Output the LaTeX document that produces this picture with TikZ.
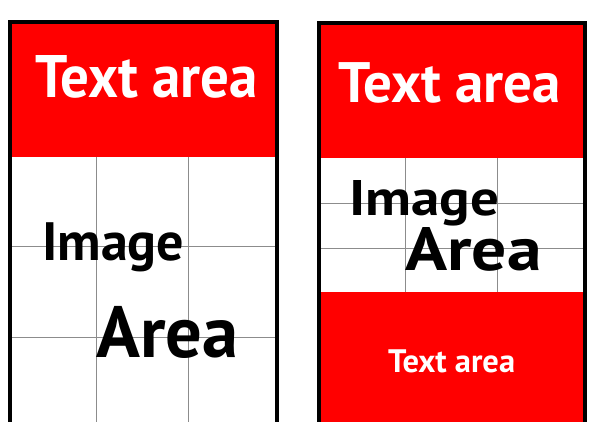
\documentclass[tikz,border=0pt]{standalone}
\usepackage{fontspec}
\newfontfamily\labelfont{PT Sans}
\newfontfamily\narrowfont[FakeStretch=0.95]{PT Sans}
\newfontfamily\widefont[FakeStretch=1.14]{PT Sans}
\newcommand{\fsz}[1]{\fontsize{#1}{#1}\selectfont}

\begin{document}
\begin{tikzpicture}[x=1pt,y=-1pt,
  border/.style={line width=4pt,black},
  gridline/.style={line width=1pt,black!45},
  whitetxt/.style={inner sep=0pt,anchor=base west,white},
  blacktxt/.style={inner sep=0pt,anchor=base west,black}]
  \useasboundingbox (0,0) rectangle (593,421);
  \clip (0,0) rectangle (593,421);
  % left page
  \fill[red] (10,22) rectangle (276.5,157);
  \draw[gridline] (96,157) -- (96,430);
  \draw[gridline] (188.5,157) -- (188.5,430);
  \draw[gridline] (10,246) -- (276.5,246);
  \draw[gridline] (10,337) -- (276.5,337);
  \draw[border] (10,430) -- (10,22) -- (276.5,22) -- (276.5,430);
  \node[whitetxt,font=\narrowfont\bfseries\fsz{60}] (lefttext) at (35,97) {Text area};
  \node[blacktxt,font=\labelfont\bfseries\fsz{54}] (leftimage) at (42,260) {Image};
  \node[blacktxt,font=\labelfont\bfseries\fsz{72.5}] (leftarea) at (96,357) {Area};
  % right page
  \fill[red] (318.5,23) rectangle (584.5,158);
  \fill[red] (318.5,292) rectangle (584.5,430);
  \draw[gridline] (405,158) -- (405,292);
  \draw[gridline] (497,158) -- (497,292);
  \draw[gridline] (318.5,203) -- (584.5,203);
  \draw[gridline] (318.5,248) -- (584.5,248);
  \draw[border] (318.5,430) -- (318.5,23) -- (584.5,23) -- (584.5,430);
  \node[whitetxt,font=\labelfont\bfseries\fsz{57}] (righttext) at (338,102) {Text area};
  \node[blacktxt,font=\widefont\bfseries\fsz{50}] (rightimage) at (349,215) {Image};
  \node[blacktxt,font=\widefont\bfseries\fsz{61}] (rightarea) at (405,270) {Area};
  \node[whitetxt,font=\labelfont\bfseries\fsz{32.5}] (bottomtext) at (388,372) {Text area};
\end{tikzpicture}
\end{document}
